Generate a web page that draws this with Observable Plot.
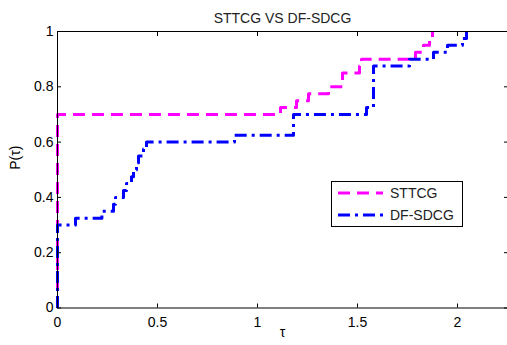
<!DOCTYPE html>
<html>
<head>
<meta charset="utf-8">
<script src="https://cdn.jsdelivr.net/npm/d3@7"></script>
<script src="https://cdn.jsdelivr.net/npm/@observablehq/plot@0.6"></script>
<style>
  html, body { margin: 0; padding: 0; background: white; }
  #wrap { position: relative; width: 507px; height: 345px; overflow: hidden; font-family: "Liberation Sans", Arial, sans-serif; }
  #legend { position: absolute; left: 331px; top: 181px; }
</style>
</head>
<body>
<div id="wrap"></div>
<script>
const title = "STTCG VS DF-SDCG";
const xLabel = "τ";
const yLabel = "P(τ)";
const seriesNames = ["STTCG", "DF-SDCG"];

const xTicks = [0, 0.5, 1, 1.5, 2];
const yTicks = [0, 0.2, 0.4, 0.6, 0.8, 1];

// STTCG (step points: tau, P)
const sttcgTau = [0, 0, 1.115, 1.195, 1.255, 1.355, 1.425, 1.51, 1.52, 1.79, 1.83, 1.86, 1.875];
const sttcgP   = [0, 0.7, 0.725, 0.75, 0.775, 0.8, 0.85, 0.875, 0.9, 0.925, 0.95, 0.975, 1.0];

// DF-SDCG
const dfTau = [0, 0, 0.09, 0.222, 0.28, 0.29, 0.33, 0.345, 0.37, 0.38, 0.395, 0.405, 0.43, 0.445, 0.885, 1.18, 1.545, 1.58, 1.76, 1.88, 1.95, 2.025, 2.045];
const dfP   = [0, 0.3, 0.325, 0.35, 0.375, 0.4, 0.425, 0.45, 0.475, 0.5, 0.525, 0.55, 0.575, 0.6, 0.625, 0.7, 0.725, 0.875, 0.9, 0.925, 0.95, 0.975, 1.0];

const colors = ["#ff00ff", "#0000ff"];
const dashes = ["12,7", "12,5,3,5"];

const sttcg = sttcgTau.map((t, i) => ({tau: t, p: sttcgP[i]}));
const df = dfTau.map((t, i) => ({tau: t, p: dfP[i]}));

const fmt = d => String(d);

const chart = Plot.plot({
  width: 507,
  height: 345,
  marginLeft: 57,
  marginRight: 0,
  marginTop: 31,
  marginBottom: 37.5,
  x: {domain: [0, 2.25]},
  y: {domain: [0, 1]},
  style: {fontFamily: "'Liberation Sans', Arial, sans-serif", fontSize: "14px", background: "white", color: "black", overflow: "visible"},
  marks: [
    Plot.line(sttcg, {x: "tau", y: "p", curve: "step-after", stroke: colors[0], strokeWidth: 3, strokeDasharray: dashes[0], strokeLinecap: "butt"}),
    Plot.line(df, {x: "tau", y: "p", curve: "step-after", stroke: colors[1], strokeWidth: 3, strokeDasharray: dashes[1], strokeLinecap: "butt"}),
    Plot.frame({stroke: "black", strokeWidth: 1}),
    Plot.axisX({anchor: "bottom", ticks: xTicks, tickSize: -4, tickPadding: 13, tickFormat: fmt, label: null, stroke: "black"}),
    Plot.axisX({anchor: "top", ticks: xTicks, tickSize: -4, tickFormat: () => "", label: null, stroke: "black"}),
    Plot.axisY({anchor: "left", ticks: yTicks, tickSize: -4, tickPadding: 8, tickFormat: fmt, label: null, stroke: "black"}),
    Plot.axisY({anchor: "right", ticks: yTicks, tickSize: -4, tickFormat: () => "", label: null, stroke: "black"}),
    Plot.text([title], {text: d => d, frameAnchor: "top", dy: -18, fontSize: 14, fill: "#222"}),
    Plot.text([xLabel], {text: d => d, frameAnchor: "bottom", dy: 29, fontSize: 14}),
    Plot.text([yLabel], {text: d => d, frameAnchor: "left", dx: -42, rotate: -90, fontSize: 14})
  ]
});
document.getElementById("wrap").appendChild(chart);

// Legend
const lg = d3.select("#wrap").append("svg").attr("id", "legend")
  .attr("width", 133).attr("height", 47);
lg.append("rect").attr("x", 0.5).attr("y", 0.5).attr("width", 131).attr("height", 45)
  .attr("fill", "white").attr("stroke", "black");
seriesNames.forEach((name, i) => {
  const y = 12 + i * 22;
  lg.append("line").attr("x1", 7).attr("x2", 52).attr("y1", y).attr("y2", y)
    .attr("stroke", colors[i]).attr("stroke-width", 3).attr("stroke-dasharray", dashes[i]);
  lg.append("text").attr("x", 59).attr("y", y).attr("dy", "0.35em")
    .attr("font-size", 14).attr("font-family", "'Liberation Sans', Arial, sans-serif")
    .attr("fill", "#222").text(name);
});
</script>
</body>
</html>
